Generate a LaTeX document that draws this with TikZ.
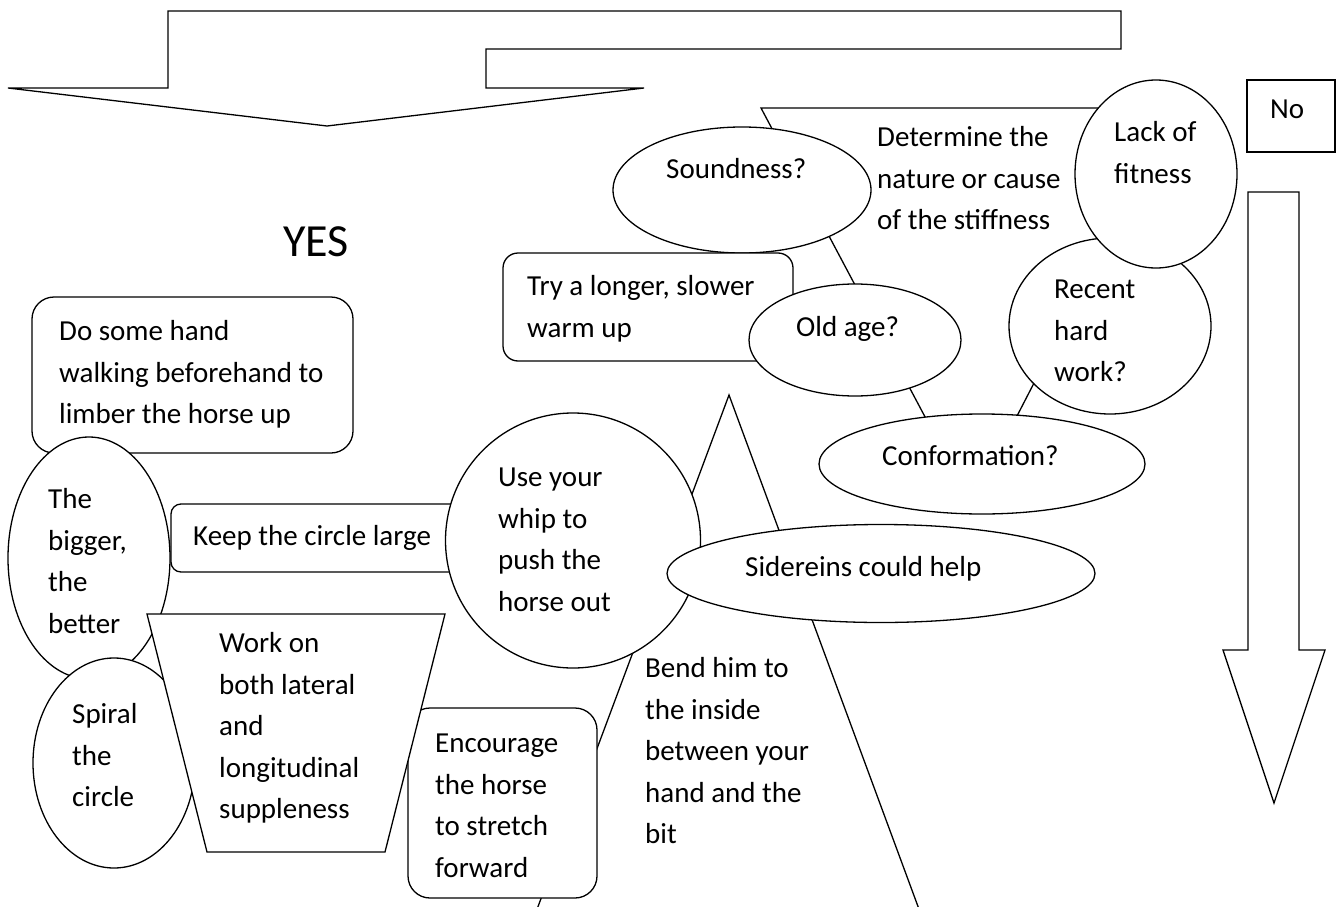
\documentclass[tikz,border=0pt]{standalone}
\usepackage{fontspec}
\setmainfont{Carlito}
\newcommand\mylines[1]{\begin{tabular}[t]{@{}l@{}}#1\end{tabular}}
\begin{document}
\begin{tikzpicture}[x=1pt,y=-1pt,
  shp/.style={draw=black, fill=white, line width=1.3pt, line join=miter},
  txt/.style={inner sep=0pt, anchor=base west, font=\fontsize{29}{41.5}\selectfont},
]
\useasboundingbox (0,0) rectangle (1338,907);
\fill[white] (0,0) rectangle (1338,907);
\clip (0,0) rectangle (1338,907);

% top bent arrow
\draw[shp] (8,88) -- (168,88) -- (168,11) -- (1121,11) -- (1121,49) -- (486,49) -- (486,88) -- (644,88) -- (327,126) -- cycle;
\node[inner sep=0pt, font=\fontsize{46}{50}\selectfont] (yes) at (316,242) {YES};

% No box and right arrow
\draw[shp] (1247,80) rectangle (1335,152);
\node[txt] (no) at (1270,118.5) {No};
\draw[shp] (1248,192) -- (1299,192) -- (1299,650) -- (1325,650) -- (1274,803) -- (1223,650) -- (1248,650) -- cycle;

% Determine trapezoid
\draw[shp] (761,108) -- (1176,108) -- (1004.6,440) -- (937.3,440) -- cycle;
\node[txt] (det) at (877,146.5) {\mylines{Determine the\\nature or cause\\of the stiffness}};

\draw[shp] (742,190) ellipse [x radius=129pt, y radius=63pt];
\node[txt] (sound) at (666,178.5) {Soundness?};

\draw[shp, rounded corners=15pt] (503,253) rectangle (793,361);
\node[txt] (try) at (527,295.5) {\mylines{Try a longer, slower\\warm up}};

\draw[shp] (855,340) ellipse [x radius=106pt, y radius=56pt];
\node[txt] (old) at (796,336.5) {Old age?};

\draw[shp] (982,464) ellipse [x radius=163pt, y radius=50pt];
\node[txt] (conf) at (882,465.5) {Conformation?};

\draw[shp] (1110,326) ellipse [x radius=101pt, y radius=88pt];
\node[txt] (recent) at (1054,298.5) {\mylines{Recent\\hard\\work?}};

\draw[shp] (1156,174) ellipse [x radius=81pt, y radius=94pt];
\node[txt] (lack) at (1114,141.5) {\mylines{Lack of\\fitness}};

% big triangle
\draw[shp] (729,395) -- (923,920) -- (533,920) -- cycle;
\node[txt] (bend) at (645,677.5) {\mylines{Bend him to\\the inside\\between your\\hand and the\\bit}};

\draw[shp, rounded corners=10pt] (171,504) rectangle (470,572);
\node[txt] (keep) at (193,545.5) {Keep the circle large};

\draw[shp] (573,540.5) circle [radius=127.5pt];
\node[txt] (whip) at (498,486.5) {\mylines{Use your\\whip to\\push the\\horse out}};

\draw[shp] (881,573.5) ellipse [x radius=214pt, y radius=49pt];
\node[txt] (side) at (745,576.5) {Sidereins could help};

\draw[shp, rounded corners=22pt] (32,297) rectangle (353,453);
\node[txt] (hand) at (59,340.5) {\mylines{Do some hand\\walking beforehand to\\limber the horse up}};

\draw[shp] (89,558) ellipse [x radius=81pt, y radius=121pt];
\node[txt] (big) at (48,508.5) {\mylines{The\\bigger,\\the\\better}};

\draw[shp] (114,763) ellipse [x radius=81pt, y radius=105pt];
\node[txt] (spiral) at (72,723.5) {\mylines{Spiral\\the\\circle}};

\draw[shp, rounded corners=22pt] (408,708) rectangle (597,898);
\node[txt] (enc) at (435,752.5) {\mylines{Encourage\\the horse\\to stretch\\forward}};

\draw[shp] (147,614) -- (445,614) -- (385,852) -- (207,852) -- cycle;
\node[txt] (work) at (219,652.5) {\mylines{Work on\\both lateral\\and\\longitudinal\\suppleness}};
\end{tikzpicture}
\end{document}
